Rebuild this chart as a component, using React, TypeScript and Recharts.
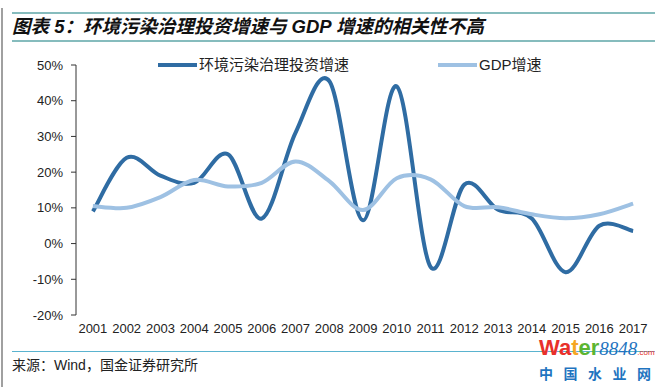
import { LineChart, Line, XAxis, YAxis } from "recharts";

const years = [2001, 2002, 2003, 2004, 2005, 2006, 2007, 2008, 2009, 2010, 2011, 2012, 2013, 2014, 2015, 2016, 2017];
// 环境污染治理投资增速 (%)
const investGrowth = [9, 24, 19, 17, 25, 7, 31, 45.5, 6.5, 44, -6.5, 16.5, 9.5, 7, -8, 5, 3.5];
// GDP增速 (%)
const gdpGrowth = [10.5, 10, 13, 17.8, 16, 17, 23, 17.5, 9.4, 18.3, 18, 10.5, 10.2, 8.2, 7.1, 8.2, 11.2];
const yTicks = [-20, -10, 0, 10, 20, 30, 40, 50];

const INVEST_NAME = "环境污染治理投资增速";
const GDP_NAME = "GDP增速";
const DARK = "#2f6ca3";
const LIGHT = "#9ec1e3";

const data = years.map((y, i) => ({ year: y, invest: investGrowth[i], gdp: gdpGrowth[i] }));
const boundaries = [...years.map((y) => y - 0.5), years[years.length - 1] + 0.5];

const sans = '"Liberation Sans", Arial, "Noto Sans CJK SC", sans-serif';
const tickStyle = { fill: "#222", fontSize: 13, fontFamily: sans };

// Excel-like smoothed line (Catmull-Rom through every point)
// eslint-disable-next-line @typescript-eslint/no-explicit-any
function smoothCurve(context: any) {
  let pts: number[][] = [];
  return {
    areaStart() {},
    areaEnd() {},
    lineStart() {
      pts = [];
    },
    point(x: number, y: number) {
      pts.push([+x, +y]);
    },
    lineEnd() {
      if (!pts.length) return;
      context.moveTo(pts[0][0], pts[0][1]);
      for (let i = 0; i < pts.length - 1; i++) {
        const p0 = pts[i - 1] || pts[i];
        const p1 = pts[i];
        const p2 = pts[i + 1];
        const p3 = pts[i + 2] || p2;
        context.bezierCurveTo(
          p1[0] + (p2[0] - p0[0]) / 6,
          p1[1] + (p2[1] - p0[1]) / 6,
          p2[0] - (p3[0] - p1[0]) / 6,
          p2[1] - (p3[1] - p1[1]) / 6,
          p2[0],
          p2[1]
        );
      }
    },
  };
}

function LegendBox() {
  const items = [
    { name: INVEST_NAME, color: DARK, width: 280 },
    { name: GDP_NAME, color: LIGHT, width: 120 },
  ];
  return (
    <div
      style={{
        position: "absolute",
        left: 158,
        top: 56,
        display: "flex",
        alignItems: "center",
        fontFamily: sans,
        fontSize: 15,
        lineHeight: "18px",
        color: "#222",
      }}
    >
      {items.map((it) => (
        <div key={it.name} style={{ display: "flex", alignItems: "center", width: it.width }}>
          <span style={{ display: "inline-block", width: 39, height: 4, background: it.color, marginRight: 2 }} />
          <span>{it.name}</span>
        </div>
      ))}
    </div>
  );
}

export default function App() {
  return (
    <div
      style={{
        position: "absolute",
        left: 0,
        top: 0,
        width: 667,
        height: 387,
        background: "#fff",
        overflow: "hidden",
        fontFamily: sans,
      }}
    >
      <div style={{ position: "absolute", left: 1, top: 8, width: 2, height: 379, background: "#a0a0a0" }} />
      <div style={{ position: "absolute", left: 12, top: 12, width: 643, height: 2, background: "#86bcbd" }} />
      <div
        style={{
          position: "absolute",
          left: 12,
          top: 15,
          fontSize: 18.5,
          fontWeight: "bold",
          fontStyle: "italic",
          color: "#111",
          whiteSpace: "pre",
          lineHeight: "24px",
        }}
      >
        图表 5：环境污染治理投资增速与 GDP 增速的相关性不高
      </div>
      <div style={{ position: "absolute", left: 12, top: 40, width: 643, height: 2, background: "#86bcbd" }} />

      <div style={{ position: "absolute", left: 0, top: 0 }}>
        <LineChart width={667} height={387} data={data} margin={{ top: 65, right: 17, bottom: 42, left: 0 }}>
          <XAxis
            xAxisId="frame"
            dataKey="year"
            type="number"
            domain={[boundaries[0], boundaries[boundaries.length - 1]]}
            ticks={boundaries}
            tick={false}
            height={0}
            tickSize={5}
            stroke="#333"
            allowDecimals
          />
          <XAxis
            xAxisId="label"
            dataKey="year"
            type="number"
            domain={[boundaries[0], boundaries[boundaries.length - 1]]}
            ticks={years}
            tickFormatter={(v) => String(v)}
            axisLine={false}
            tickLine={false}
            tickSize={5}
            tickMargin={4}
            height={30}
            tick={tickStyle}
            interval={0}
          />
          <YAxis
            domain={[-20, 50]}
            ticks={yTicks}
            tickFormatter={(v) => `${v}%`}
            width={76}
            tickSize={5}
            tickMargin={8}
            stroke="#333"
            tick={tickStyle}
            interval={0}
          />
          <Line
            xAxisId="frame"
            type={smoothCurve}
            dataKey="invest"
            name={INVEST_NAME}
            stroke={DARK}
            strokeWidth={4}
            dot={false}
            isAnimationActive={false}
          />
          <Line
            xAxisId="frame"
            type={smoothCurve}
            dataKey="gdp"
            name={GDP_NAME}
            stroke={LIGHT}
            strokeWidth={4}
            dot={false}
            isAnimationActive={false}
          />
        </LineChart>
      </div>
      <LegendBox />

      <div style={{ position: "absolute", left: 12, top: 351, width: 643, height: 1, background: "#5ab3cf" }} />
      <div style={{ position: "absolute", left: 12, top: 354, fontSize: 14, color: "#222", whiteSpace: "nowrap" }}>
        来源：Wind，国金证券研究所
      </div>
      <div style={{ position: "absolute", left: 539, top: 338, whiteSpace: "nowrap", lineHeight: "20px" }}>
        <span style={{ fontSize: 22, fontWeight: "bold", color: "#e8302a" }}>Wa</span>
        <span style={{ fontSize: 22, fontWeight: "bold", color: "#f5a623" }}>t</span>
        <span style={{ fontSize: 22, fontWeight: "bold", color: "#5cb531" }}>er</span>
        <span style={{ fontSize: 19, fontStyle: "italic", color: "#1f74c0", fontFamily: '"Liberation Serif", serif' }}>8848</span>
        <span style={{ fontSize: 8, color: "#e8302a" }}>.com</span>
      </div>
      <div
        style={{
          position: "absolute",
          left: 539,
          top: 363,
          fontSize: 14,
          fontWeight: "bold",
          color: "#1f74c0",
          letterSpacing: 10.5,
          whiteSpace: "nowrap",
          fontFamily: '"Noto Sans CJK SC", sans-serif',
        }}
      >
        中国水业网
      </div>
    </div>
  );
}
